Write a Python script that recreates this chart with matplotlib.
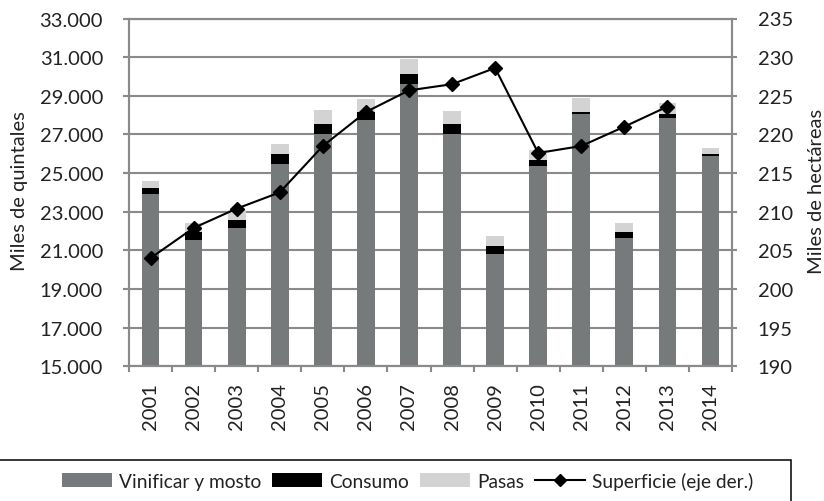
import matplotlib
matplotlib.use("Agg")
import matplotlib.pyplot as plt
import numpy as np
from matplotlib.ticker import FuncFormatter, FixedLocator
from matplotlib.patches import Rectangle, Patch
from matplotlib.lines import Line2D

# --- data (miles de quintales / miles de hectáreas) ---
years = [2001, 2002, 2003, 2004, 2005, 2006, 2007,
         2008, 2009, 2010, 2011, 2012, 2013, 2014]
vinificar = [23900, 21550, 22170, 25490, 27040, 27760, 29620,
             27040, 20810, 25380, 28060, 21640, 27850, 25880]
consumo = [330, 420, 420, 500, 500, 420, 500,
           500, 430, 300, 100, 310, 200, 100]
pasas = [360, 450, 520, 510, 720, 650, 780,
         670, 500, 500, 740, 470, 600, 300]
superficie = [204.0, 207.9, 210.4, 212.5, 218.5, 222.9, 225.7,
              226.5, 228.6, 217.6, 218.5, 221.0, 223.6, np.nan]

left_ticks = [15000, 17000, 19000, 21000, 23000, 25000, 27000, 29000, 31000, 33000]
right_ticks = [190, 195, 200, 205, 210, 215, 220, 225, 230, 235]

labels = ["Vinificar y mosto", "Consumo", "Pasas", "Superficie (eje der.)"]

C_VIN = "#767a7a"
C_CON = "#000000"
C_PAS = "#d3d3d3"
C_GRID = "#8a8a8a"
C_TXT = "#222222"

plt.rcParams["font.family"] = ["Lato", "DejaVu Sans"]
plt.rcParams["font.size"] = 14.5

W, H = 824, 502
fig = plt.figure(figsize=(W / 100, H / 100), dpi=100)

left, right, top, bottom = 129, 732, 19.5, 367.3
ax = fig.add_axes([left / W, 1 - bottom / H, (right - left) / W, (bottom - top) / H])

x = np.arange(len(years))
vin = np.array(vinificar, dtype=float)
con = np.array(consumo, dtype=float)
pas = np.array(pasas, dtype=float)

bw = 0.41
ax.bar(x, vin, bw, color=C_VIN, zorder=2)
ax.bar(x, con, bw, bottom=vin, color=C_CON, zorder=2)
ax.bar(x, pas, bw, bottom=vin + con, color=C_PAS, zorder=2)

ax.set_xlim(-0.5, len(years) - 0.5)
ax.set_ylim(left_ticks[0], left_ticks[-1])
ax.yaxis.set_major_locator(FixedLocator(left_ticks))
ax.yaxis.set_major_formatter(FuncFormatter(lambda v, p: f"{int(v):,}".replace(",", ".")))
ax.grid(axis="y", color=C_GRID, lw=1.5, zorder=0)
ax.set_axisbelow(True)

# category boundaries carry the tick marks, centres carry the year labels
ax.set_xticks(np.arange(-0.5, len(years), 1))
ax.set_xticklabels([])
ax.set_xticks(x, minor=True)
ax.set_xticklabels([str(y) for y in years], minor=True, rotation=90, color=C_TXT)
ax.tick_params(axis="x", which="major", length=4.5, width=1.5, color=C_GRID, direction="out")
ax.tick_params(axis="x", which="minor", length=0, pad=11.5)
ax.tick_params(axis="y", length=4.3, width=1.5, color=C_GRID, pad=14.4, labelcolor=C_TXT)

for s in ax.spines.values():
    s.set_color(C_GRID)
    s.set_linewidth(1.5)

ax2 = ax.twinx()
ax2.plot(x, superficie, color="black", lw=1.5, marker="D", markersize=7.5, zorder=5)
ax2.set_ylim(right_ticks[0], right_ticks[-1])
ax2.yaxis.set_major_locator(FixedLocator(right_ticks))
ax2.tick_params(axis="y", length=3.6, width=1.5, color=C_GRID, pad=15, labelcolor=C_TXT)
for s in ax2.spines.values():
    s.set_color(C_GRID)
    s.set_linewidth(1.5)

fig.text(20 / W, 1 - 191 / H, "Miles de quintales", rotation=90,
         ha="center", va="center", color=C_TXT)
fig.text(816 / W, 1 - 191 / H, "Miles de hectáreas", rotation=90,
         ha="center", va="center", color=C_TXT)

handles = [
    Patch(facecolor=C_VIN, edgecolor="none"),
    Patch(facecolor=C_CON, edgecolor="none"),
    Patch(facecolor=C_PAS, edgecolor="none"),
    Line2D([], [], color="black", lw=1.5, marker="D", markersize=6.5),
]
fs_leg = 13.8
em = fs_leg * 100 / 72
fig.legend(handles, labels, loc="center left", bbox_to_anchor=(62 / W, 1 - 482 / H),
           ncol=4, frameon=False, fontsize=fs_leg, handlelength=50 / em,
           handleheight=14 / em, handletextpad=7 / em, columnspacing=11 / em,
           borderpad=0, borderaxespad=0, labelcolor=C_TXT)
fig.patches.append(Rectangle((-10 / W, -0.1), (791 + 10) / W, 0.1 + (1 - 461 / H),
                             transform=fig.transFigure, fill=False,
                             edgecolor="black", lw=1.1))

fig.savefig("out.png", dpi=100)
